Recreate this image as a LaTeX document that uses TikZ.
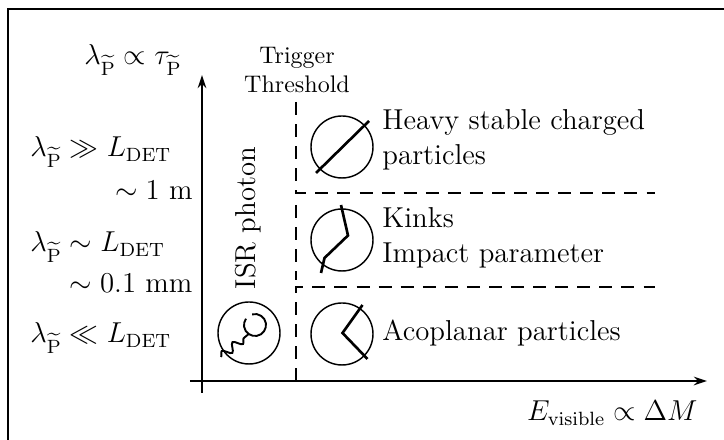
\documentclass[tikz,border=0pt,12pt]{standalone}
\usetikzlibrary{arrows.meta,decorations.pathmorphing}
\begin{document}
\begin{tikzpicture}[x=0.4167pt,y=0.4167pt,
        thick line/.style={line width=1.2pt},
        cut line/.style={line width=1.2pt, dash pattern=on 5.4pt off 3.8pt},
        axis tip/.style={-{Stealth[length=5.5pt,width=3.6pt]}},
        detector/.style={line width=0.6pt},
        track/.style={line width=1.1pt},
        photon/.style={line width=0.8pt},
        label/.style={inner sep=0pt}]
        \useasboundingbox (0,0) rectangle (724,440);
        \draw[thick line] (8,0) |- (724,431);

        % axes
        \coordinate (x from) at (190,59);
        \coordinate (x to)   at (707,59);
        \coordinate (y from) at (202,47);
        \coordinate (y to)   at (202,365);
        \draw[thick line,axis tip] (x from) -- (x to);
        \draw[thick line,axis tip] (y from) -- (y to);

        % trigger threshold and lifetime regions
        \draw[cut line] (296,338) |- (655,247);
        \draw[cut line] (296,59)  |- (655,153);
        \draw[cut line] (296,235) -- (296,160);

        \begin{scope}[shift={(342,293)}]
          \draw[detector] (0,0) circle (31);
          \draw[track   ] (-26,-26) -- (27,26);
        \end{scope}

        \begin{scope}[shift={(342,200)}]
          \draw[detector] (0,0) circle (31);
          \draw[track   ] (-1,35) -- (6,4.5) -- (-17.5,-18) -- (-21,-33);
        \end{scope}

        \begin{scope}[shift={(342,106)}]
          \draw[detector] (0,0) circle (31);
          \draw[track   ] (20.5,29) -- (0.5,1) -- (25.5,-25);
        \end{scope}

        \begin{scope}[shift={(249,107)}]
          \draw[detector] (0,0) circle (31);
          \draw[photon,decorate,decoration={snake,amplitude=1.7pt,segment length=5.8pt}]
            (-28,-24) -- (-0.3,-1);
          \draw[photon] (6,8) ++(145:11) arc[start angle=145,end angle=465,radius=11];
        \end{scope}

        % labels
        \node[label,anchor=base] (lifetime) at (133,375)
          {$\lambda_{\widetilde{\mathrm{P}}}\propto\tau_{\widetilde{\mathrm{P}}}$};
        \node[label,anchor=base west] (long)   at (30,283) {$\lambda_{\widetilde{\mathrm{P}}}\gg L_{\mathrm{DET}}$};
        \node[label,anchor=base west] (medium) at (30,188) {$\lambda_{\widetilde{\mathrm{P}}}\sim L_{\mathrm{DET}}$};
        \node[label,anchor=base west] (short)  at (30,97)  {$\lambda_{\widetilde{\mathrm{P}}}\ll L_{\mathrm{DET}}$};
        \node[label,anchor=base east] (metre)  at (193,240) {$\sim 1~\mathrm{m}$};
        \node[label,anchor=base east] (tenth)  at (193,147) {$\sim 0.1~\mathrm{mm}$};
        \node[label,anchor=north,align=center,font=\footnotesize] (trigger) at (297,393) {Trigger\\Threshold};
        \node[label,rotate=90] (isr) at (248,222) {ISR photon};
        \node[label,anchor=north west,align=left] (heavy text) at (382,331) {Heavy stable charged\\particles};
        \node[label,anchor=north west,align=left] (kink text)  at (382,233) {Kinks\\Impact parameter};
        \node[label,anchor=west] (acoplanar text) at (382,107) {Acoplanar particles};
        \node[label,anchor=base east] (energy) at (698,19) {$E_{\mathrm{visible}}\propto\Delta M$};
      \end{tikzpicture}
\end{document}
